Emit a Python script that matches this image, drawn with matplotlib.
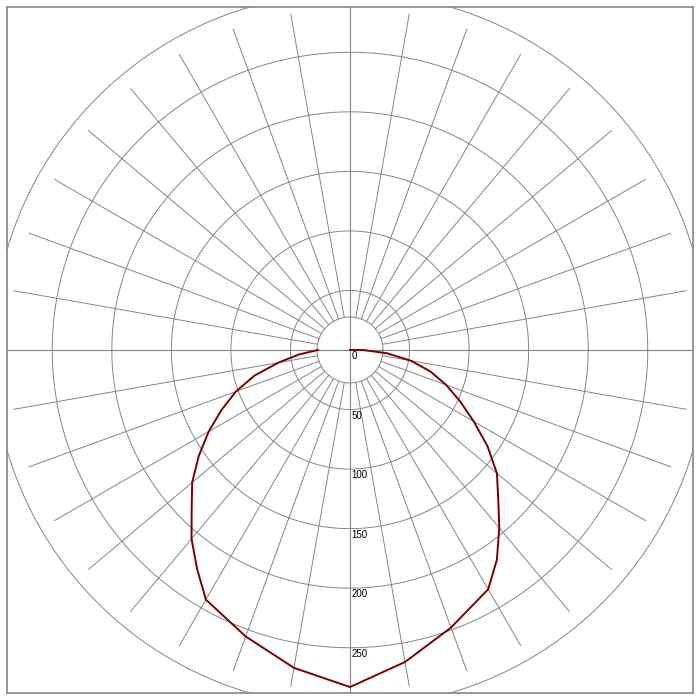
import numpy as np
import matplotlib
matplotlib.use("Agg")
import matplotlib.pyplot as plt

# gamma angle from the downward vertical (degrees) and intensity
angles = [0, 10, 20, 30, 35, 40, 45, 50, 55, 60, 65, 70, 75, 80, 85, 90]
left_values = [283, 271, 256, 242, 224, 207, 188, 173, 155, 137, 119, 102, 83, 61, 43, 27]
right_values = [283, 266, 248, 232, 215, 195, 176, 161, 141, 120, 102, 86, 70, 52, 31, 11]

ring_values = [50, 100, 150, 200, 250, 300]
ring_labels = ["0", "50", "100", "150", "200", "250"]
spoke_angles = list(range(0, 360, 10))
inner_radius = 27.7
spoke_end = 286.5

grid_col = "#858585"

fig = plt.figure(figsize=(7, 7), dpi=100)
ax = fig.add_axes([7 / 700, 7 / 700, 686 / 700, 686 / 700])
ax.set_xlim(-288, 288)
ax.set_ylim(-288, 288)
ax.set_aspect("equal")
ax.set_xticks([])
ax.set_yticks([])
for s in ax.spines.values():
    s.set_color(grid_col)
    s.set_linewidth(1.2)

t = np.linspace(0, 2 * np.pi, 721)
# rings
for r in [inner_radius] + ring_values:
    ax.plot(r * np.cos(t), r * np.sin(t), color=grid_col, lw=0.7, zorder=1)

# spokes
for a in spoke_angles:
    if a % 90 == 0:
        continue
    th = np.radians(a)
    ax.plot([inner_radius * np.sin(th), spoke_end * np.sin(th)],
            [-inner_radius * np.cos(th), -spoke_end * np.cos(th)],
            color=grid_col, lw=0.7, zorder=1)

# main axes through the centre
ax.axhline(0, color=grid_col, lw=0.8, zorder=1)
ax.axvline(0, color=grid_col, lw=0.8, zorder=1)

# ring labels along the downward axis
label_radii = [0] + ring_values[:-1]
for r, lab in zip(label_radii, ring_labels):
    ax.text(1.5, -r - 1, lab, ha="left", va="top", fontsize=7,
            family="Liberation Sans", color="black", zorder=3)

# intensity curve: left half then right half
g_left = np.radians(angles[::-1])
v_left = np.array(left_values[::-1])
g_right = np.radians(angles)
v_right = np.array(right_values)

xs = np.concatenate([-v_left * np.sin(g_left), v_right * np.sin(g_right), [0]])
ys = np.concatenate([-v_left * np.cos(g_left), -v_right * np.cos(g_right), [0]])
ax.plot(xs, ys, color="#7a0000", lw=1.4, zorder=2)

fig.savefig("out.png", dpi=100)
